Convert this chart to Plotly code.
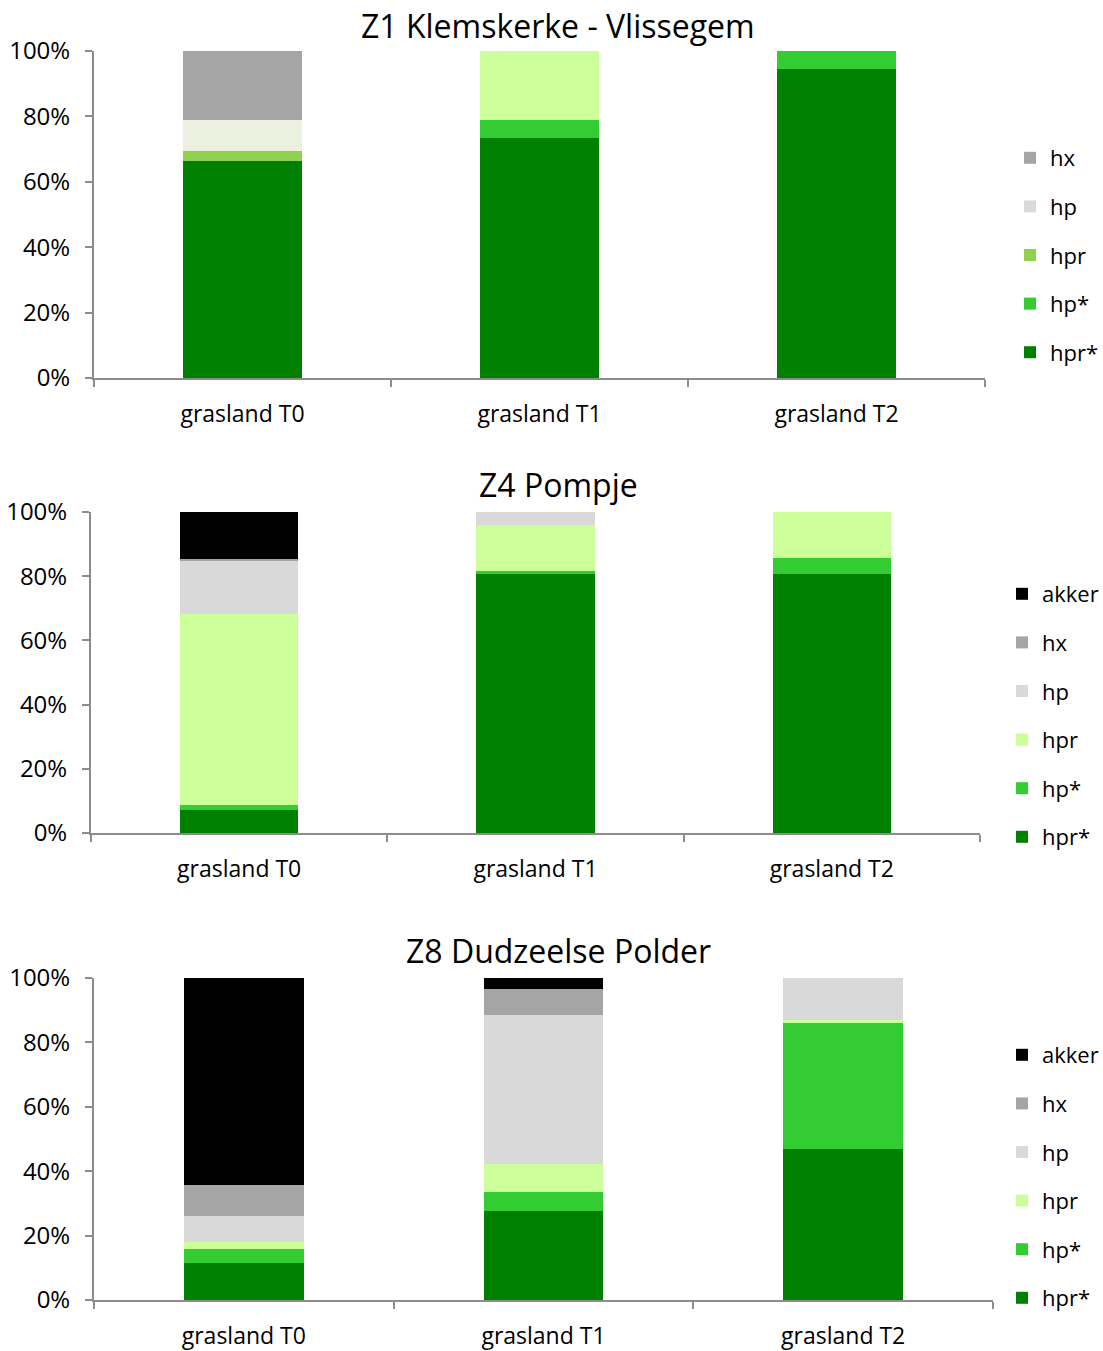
import plotly.graph_objects as go

categories = ["grasland T0", "grasland T1", "grasland T2"]
series_z1 = ["hpr*", "hp*", "hpr", "hp", "hx"]
series_z48 = ["hpr*", "hp*", "hpr", "hp", "hx", "akker"]
y_ticks = [0, 20, 40, 60, 80, 100]
y_tick_labels = ["0%", "20%", "40%", "60%", "80%", "100%"]

# values (percent), per series: [T0, T1, T2]
z1_values = {
    "hpr*": [66.4, 73.5, 94.4],
    "hp*": [0.0, 5.4, 5.6],
    "hpr": [3.0, 21.1, 0.0],
    "hp": [9.5, 0.0, 0.0],
    "hx": [21.1, 0.0, 0.0],
}
z4_values = {
    "hpr*": [7.2, 80.8, 80.8],
    "hp*": [1.5, 0.8, 4.8],
    "hpr": [59.6, 14.4, 14.4],
    "hp": [16.5, 4.0, 0.0],
    "hx": [0.5, 0.0, 0.0],
    "akker": [14.7, 0.0, 0.0],
}
z8_values = {
    "hpr*": [11.6, 27.7, 46.9],
    "hp*": [4.1, 5.8, 39.0],
    "hpr": [2.4, 8.6, 1.1],
    "hp": [8.0, 46.5, 13.0],
    "hx": [9.6, 7.9, 0.0],
    "akker": [64.3, 3.5, 0.0],
}
titles = ["Z1 Klemskerke - Vlissegem", "Z4 Pompje", "Z8 Dudzeelse Polder"]

# ---- styles ----
W, H = 1103, 1351
FONT = "Open Sans"
AXIS_GRAY = "#8C8C8C"
legend_colors_z1 = {"hx": "#A5A5A5", "hp": "#D9D9D9", "hpr": "#92D050",
                    "hp*": "#33CC33", "hpr*": "#008000"}
legend_colors_z48 = {"akker": "#000000", "hx": "#A5A5A5", "hp": "#D9D9D9",
                     "hpr": "#CCFF99", "hp*": "#33CC33", "hpr*": "#008000"}
# per-bar colours as drawn (Z1 bars use some overridden colours)
bar_colors_z1 = {
    "hpr*": ["#008000"] * 3,
    "hp*": ["#33CC33"] * 3,
    "hpr": ["#92D050", "#CCFF99", "#CCFF99"],
    "hp": ["#EBF1DE"] * 3,
    "hx": ["#A5A5A5"] * 3,
}
bar_colors_z48 = {k: [v] * 3 for k, v in legend_colors_z48.items()}

# plot areas in pixels: (x0, x1, ytop, ybottom)
areas = [(94, 985, 51, 378), (91, 980, 512, 833), (94, 993, 978, 1300)]
title_y = [25, 484, 950]
title_x = 558
legend_top = [137, 573, 1034]
legend_x = [1010, 1002, 1002]

panels = [
    (series_z1, z1_values, bar_colors_z1, legend_colors_z1),
    (series_z48, z4_values, bar_colors_z48, legend_colors_z48),
    (series_z48, z8_values, bar_colors_z48, legend_colors_z48),
]

fig = go.Figure()
layout = dict(
    width=W, height=H, margin=dict(l=0, r=0, t=0, b=0, autoexpand=False),
    paper_bgcolor="white", plot_bgcolor="white",
    barmode="stack", bargap=0.6,
    font=dict(family=FONT, color="black"),
    annotations=[],
)

for i, (series, values, bcolors, lcolors) in enumerate(panels):
    n = i + 1
    xa = "x" if n == 1 else f"x{n}"
    ya = "y" if n == 1 else f"y{n}"
    leg = "legend" if n == 1 else f"legend{n}"
    for s in series:
        fig.add_trace(go.Bar(
            x=categories, y=values[s], name=s,
            marker=dict(color=bcolors[s], line=dict(width=0)),
            xaxis=xa, yaxis=ya, showlegend=False,
        ))
    # legend entries (top to bottom)
    for s in reversed(series):
        fig.add_trace(go.Bar(
            x=[None], y=[None], name=s,
            marker=dict(color=lcolors[s], line=dict(width=0)),
            xaxis=xa, yaxis=ya, showlegend=True, legend=leg, legendgroup=f"{n}{s}",
        ))
    x0, x1, yt, yb = areas[i]
    layout[f"xaxis{'' if n == 1 else n}"] = dict(
        domain=[x0 / W, x1 / W], anchor=ya,
        type="category", categoryorder="array", categoryarray=categories,
        range=[-0.5, 2.5], automargin=False,
        showline=True, linecolor=AXIS_GRAY, linewidth=2,
        ticks="outside", tickson="boundaries", ticklen=7, tickcolor=AXIS_GRAY, tickwidth=2,
        tickfont=dict(size=23, family=FONT, color="black"), ticklabelstandoff=14,
        showgrid=False, zeroline=False,
    )
    layout[f"yaxis{'' if n == 1 else n}"] = dict(
        domain=[1 - yb / H, 1 - yt / H], anchor=xa,
        range=[0, 100], tickvals=y_ticks, ticktext=y_tick_labels, automargin=False,
        showline=True, linecolor=AXIS_GRAY, linewidth=2,
        ticks="outside", ticklen=7, tickcolor=AXIS_GRAY, tickwidth=2,
        tickfont=dict(size=24, family=FONT, color="black"), ticklabelstandoff=10,
        showgrid=False, zeroline=False,
    )
    layout[leg] = dict(
        x=legend_x[i] / W, xanchor="left", y=1 - legend_top[i] / H, yanchor="top",
        font=dict(size=22, family=FONT, color="black"),
        traceorder="grouped", tracegroupgap=17, bgcolor="rgba(0,0,0,0)",
        itemclick=False,
    )
    layout["annotations"].append(dict(
        text=titles[i], xref="paper", yref="paper",
        x=title_x / W, y=1 - title_y[i] / H, xanchor="center", yanchor="middle",
        showarrow=False, font=dict(size=32, family=FONT, color="black"),
    ))

fig.update_layout(**layout)
fig.write_html("out.html", config={"displayModeBar": False},
               post_script="document.body.style.margin='0';")
